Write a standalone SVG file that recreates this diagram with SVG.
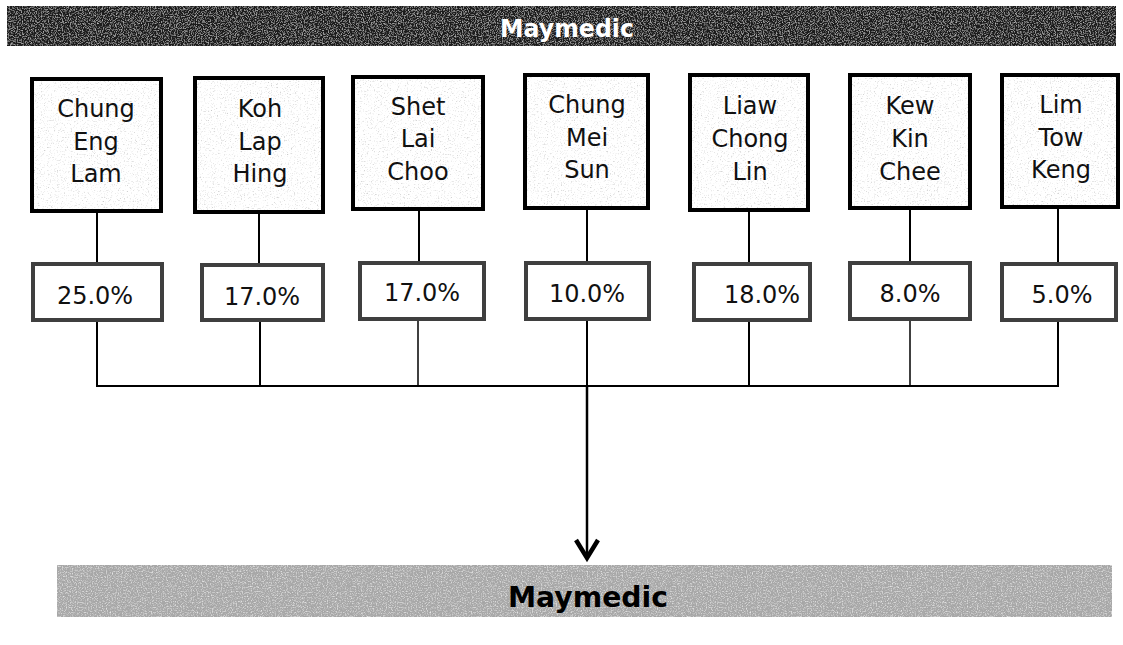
<svg xmlns="http://www.w3.org/2000/svg" width="1123" height="645" viewBox="0 0 1123 645">
<style>
.name{font-family:"DejaVu Sans",Verdana,sans-serif;font-size:24px;fill:#111;text-anchor:middle}
.pct{font-family:"DejaVu Sans",Verdana,sans-serif;font-size:24px;fill:#111;text-anchor:middle}
.nbox{fill:none;stroke:#000;stroke-width:4}
.nfill{fill:#fff}
.pbox{fill:#fff;stroke:#3f3f3f;stroke-width:4}
.ln{stroke:#000;stroke-width:2;fill:none}
.thin{stroke-width:1.5}
.shaft{stroke-width:2.5}
.head{stroke-width:4.5;stroke-linejoin:miter}
.title{font-family:"DejaVu Sans",Verdana,sans-serif;font-weight:bold;text-anchor:middle}
</style>
<defs>
<filter id="grainDark" x="0" y="0" width="100%" height="100%">
<feTurbulence type="fractalNoise" baseFrequency="0.85" numOctaves="2" seed="4" result="n"/>
<feColorMatrix in="n" type="matrix" values="0 0 0 0 0.75  0 0 0 0 0.75  0 0 0 0 0.75  1.6 0 0 0 -0.75" result="w"/>
<feComposite in="w" in2="SourceAlpha" operator="in" result="wc"/>
<feMerge><feMergeNode in="SourceGraphic"/><feMergeNode in="wc"/></feMerge>
</filter>
<filter id="grainGray" x="0" y="0" width="100%" height="100%">
<feTurbulence type="fractalNoise" baseFrequency="0.9" numOctaves="2" seed="7" result="n"/>
<feColorMatrix in="n" type="matrix" values="0 0 0 0 0.35  0 0 0 0 0.35  0 0 0 0 0.35  1.6 0 0 0 -0.7" result="d"/>
<feComposite in="d" in2="SourceAlpha" operator="in" result="dc"/>
<feTurbulence type="fractalNoise" baseFrequency="0.8" numOctaves="2" seed="11" result="n2"/>
<feColorMatrix in="n2" type="matrix" values="0 0 0 0 1  0 0 0 0 1  0 0 0 0 1  1.6 0 0 0 -0.75" result="l"/>
<feComposite in="l" in2="SourceAlpha" operator="in" result="lc"/>
<feMerge><feMergeNode in="SourceGraphic"/><feMergeNode in="dc"/><feMergeNode in="lc"/></feMerge>
</filter>
<filter id="grainLight" x="0" y="0" width="100%" height="100%">
<feTurbulence type="fractalNoise" baseFrequency="0.7" numOctaves="3" seed="2" result="n"/>
<feColorMatrix in="n" type="matrix" values="0 0 0 0 0.45  0 0 0 0 0.45  0 0 0 0 0.45  2.2 0 0 0 -1.25" result="d"/>
<feComposite in="d" in2="SourceAlpha" operator="in" result="dc"/>
<feMerge><feMergeNode in="SourceGraphic"/><feMergeNode in="dc"/></feMerge>
</filter>
</defs>

<g id="top-bar">
<rect x="7" y="6" width="1109" height="40" fill="#1c1c1c" filter="url(#grainDark)"/>
<text class="title" x="567" y="37" font-size="25" fill="#fff" textLength="134" lengthAdjust="spacingAndGlyphs">Maymedic</text>
</g>

<g id="connectors">
<line class="ln" x1="97" y1="213" x2="97" y2="264"/>
<line class="ln" x1="259" y1="214" x2="259" y2="265"/>
<line class="ln" x1="419" y1="211" x2="419" y2="263"/>
<line class="ln" x1="587" y1="210" x2="587" y2="263"/>
<line class="ln" x1="749" y1="212" x2="749" y2="264"/>
<line class="ln" x1="910" y1="210" x2="910" y2="263"/>
<line class="ln" x1="1058" y1="209" x2="1058" y2="264"/>
<line class="ln" x1="97" y1="322" x2="97" y2="387"/>
<line class="ln" x1="260" y1="322" x2="260" y2="387"/>
<line class="ln thin" x1="418" y1="321" x2="418" y2="387"/>
<line class="ln" x1="587" y1="321" x2="587" y2="387"/>
<line class="ln" x1="749" y1="322" x2="749" y2="387"/>
<line class="ln thin" x1="910" y1="321" x2="910" y2="387"/>
<line class="ln" x1="1058" y1="322" x2="1058" y2="387"/>
<line class="ln" x1="96" y1="386" x2="1059" y2="386"/>
<line class="ln shaft" x1="587" y1="386" x2="587" y2="556"/>
<polyline class="ln head" points="576,540 587,558 598,540"/>
</g>

<g id="n1">
<rect class="nfill" x="32" y="79" width="129" height="132" filter="url(#grainLight)"/>
<rect class="nbox" x="32" y="79" width="129" height="132"/>
<text class="name" x="96" y="117">Chung</text>
<text class="name" x="96" y="150">Eng</text>
<text class="name" x="96" y="182">Lam</text>
</g>
<g id="n2">
<rect class="nfill" x="195" y="78" width="128" height="134" filter="url(#grainLight)"/>
<rect class="nbox" x="195" y="78" width="128" height="134"/>
<text class="name" x="260" y="117">Koh</text>
<text class="name" x="260" y="150">Lap</text>
<text class="name" x="260" y="182">Hing</text>
</g>
<g id="n3">
<rect class="nfill" x="353" y="77" width="130" height="132" filter="url(#grainLight)"/>
<rect class="nbox" x="353" y="77" width="130" height="132"/>
<text class="name" x="418" y="115">Shet</text>
<text class="name" x="418" y="147">Lai</text>
<text class="name" x="418" y="180">Choo</text>
</g>
<g id="n4">
<rect class="nfill" x="525" y="75" width="123" height="133" filter="url(#grainLight)"/>
<rect class="nbox" x="525" y="75" width="123" height="133"/>
<text class="name" x="587" y="113">Chung</text>
<text class="name" x="587" y="146">Mei</text>
<text class="name" x="587" y="178">Sun</text>
</g>
<g id="n5">
<rect class="nfill" x="690" y="75" width="118" height="135" filter="url(#grainLight)"/>
<rect class="nbox" x="690" y="75" width="118" height="135"/>
<text class="name" x="750" y="114">Liaw</text>
<text class="name" x="750" y="147">Chong</text>
<text class="name" x="750" y="180">Lin</text>
</g>
<g id="n6">
<rect class="nfill" x="850" y="75" width="120" height="133" filter="url(#grainLight)"/>
<rect class="nbox" x="850" y="75" width="120" height="133"/>
<text class="name" x="910" y="114">Kew</text>
<text class="name" x="910" y="147">Kin</text>
<text class="name" x="910" y="180">Chee</text>
</g>
<g id="n7">
<rect class="nfill" x="1002" y="75" width="116" height="132" filter="url(#grainLight)"/>
<rect class="nbox" x="1002" y="75" width="116" height="132"/>
<text class="name" x="1061" y="113">Lim</text>
<text class="name" x="1061" y="146">Tow</text>
<text class="name" x="1061" y="178">Keng</text>
</g>

<g id="p1"><rect class="pbox" x="33" y="264" width="129" height="56"/><text class="pct" x="95" y="304">25.0%</text></g>
<g id="p2"><rect class="pbox" x="202" y="265" width="121" height="55"/><text class="pct" x="262" y="305">17.0%</text></g>
<g id="p3"><rect class="pbox" x="360" y="263" width="124" height="56"/><text class="pct" x="422" y="301">17.0%</text></g>
<g id="p4"><rect class="pbox" x="526" y="263" width="123" height="56"/><text class="pct" x="587" y="302">10.0%</text></g>
<g id="p5"><rect class="pbox" x="694" y="264" width="116" height="56"/><text class="pct" x="762" y="303">18.0%</text></g>
<g id="p6"><rect class="pbox" x="850" y="263" width="120" height="56"/><text class="pct" x="910" y="302">8.0%</text></g>
<g id="p7"><rect class="pbox" x="1002" y="264" width="114" height="56"/><text class="pct" x="1062" y="303">5.0%</text></g>

<g id="bottom-bar">
<rect x="57" y="565" width="1055" height="52" fill="#a9a9a9" filter="url(#grainGray)"/>
<text class="title" x="588" y="607" font-size="29" fill="#000" textLength="160" lengthAdjust="spacingAndGlyphs">Maymedic</text>
</g>
</svg>
